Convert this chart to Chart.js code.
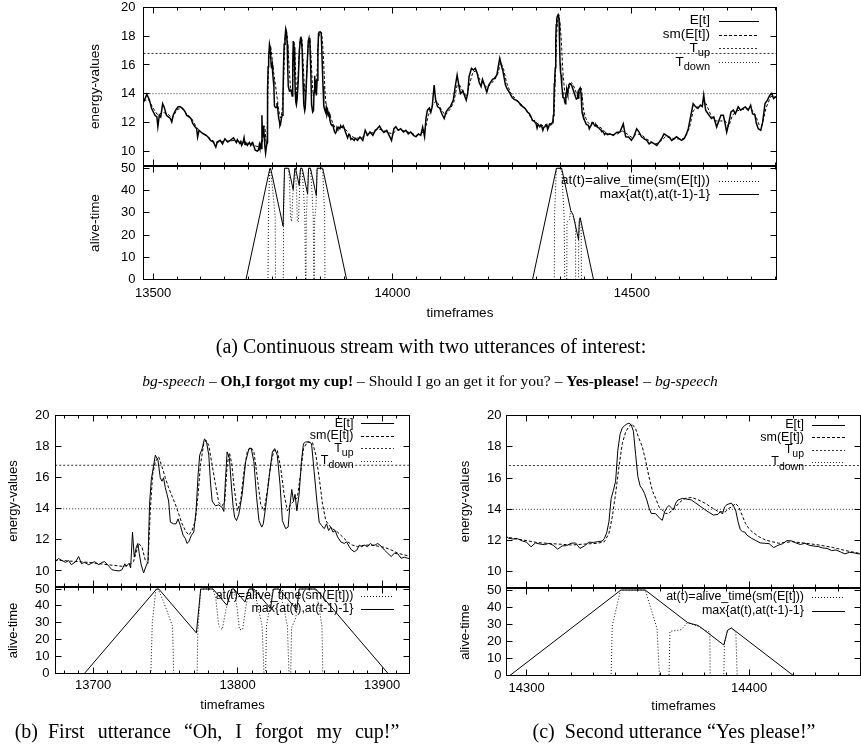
<!DOCTYPE html>
<html>
<head>
<meta charset="utf-8">
<script src="https://cdn.jsdelivr.net/npm/chart.js@4.4.1/dist/chart.umd.min.js"></script>
<style>
  html, body { margin: 0; padding: 0; background: #fff; }
  #page { position: relative; width: 861px; height: 752px; overflow: hidden; }
  #page canvas { position: absolute; left: 0; top: 0; }
  .cap { position: absolute; font-family: "Liberation Serif", "Times New Roman", serif; color: #000;
         white-space: nowrap; line-height: 1; transform: translateX(-50%); }
</style>
</head>
<body>
<div id="page">
  <canvas id="topE" width="861" height="752"></canvas>
  <canvas id="topA" width="861" height="752"></canvas>
  <canvas id="leftE" width="861" height="752"></canvas>
  <canvas id="leftA" width="861" height="752"></canvas>
  <canvas id="rightE" width="861" height="752"></canvas>
  <canvas id="rightA" width="861" height="752"></canvas>
  <div class="cap" style="left:431px; top:336px; font-size:20px;">(a) Continuous stream with two utterances of interest:</div>
  <div class="cap" style="left:430px; top:373px; font-size:15.5px;"><i>bg-speech</i> – <b>Oh,I forgot my cup!</b> – Should I go an get it for you? – <b>Yes-please!</b> – <i>bg-speech</i></div>
  <div class="cap" style="left:207px; top:721px; font-size:20px; word-spacing:8px;">(b)&ensp;First utterance “Oh, I forgot my cup!”</div>
  <div class="cap" style="left:674px; top:721px; font-size:20px;">(c)&ensp;Second utterance “Yes please!”</div>
</div>
<script>
// thresholds
const T_UP = 16.8;
const T_DOWN = 14.0;

// tick labels
const energyTicks = [10, 12, 14, 16, 18, 20];
const aliveTicks = [0, 10, 20, 30, 40, 50];
const topTicks = [13500, 14000, 14500];
const leftTicks = [13700, 13800, 13900];
const rightTicks = [14300, 14400];

// E[t] as [timeframe, energy]
const eLead = [[13480,13.4],[13487,13.95],[13492,13.6],[13497,12.97],[13504,12.5],[13508,12.38],[13510,11.7],
  [13513,12.5],[13516,12.38],[13520,13.3],[13523,13.08],[13528,12.5],[13532,12.38],[13536,12.27],[13539,12.03],
  [13542,12.5],[13547,12.85],[13552,13.08],[13556,13.1],[13562,12.97],[13567,12.73],[13570,12.5],[13575,12.38],
  [13579,12.27],[13583,11.92],[13588,11.68],[13591,11.56],[13593,10.98],[13596,11.45],[13600,11.33],[13605,11.21],
  [13611,11.1],[13616,10.93],[13620,10.75],[13626,10.63],[13631,10.28],[13634,10.63],[13640,10.75],[13645,10.5],
  [13650,10.86],[13656,10.63],[13661,10.75],[13668,10.93],[13671,10.75]];
const eFirst = [[13674,10.6],[13676,10.8],[13678,10.7],[13681,10.55],[13683,10.67],[13685,10.4],[13688,10.6],
  [13690,10.93],[13692,10.46],[13694,10.55],[13697,10.4],[13699,10.5],[13701,10.6],[13704,10.4],[13706,10.55],
  [13708,10.6],[13711,10.3],[13713,10.08],[13715,10.04],[13718,10.0],[13720,10.08],[13722,10.46],[13723,10.3],
  [13725,10.5],[13726,10.19],[13727.3,12.5],[13728.5,10.9],[13730,11.56],[13731,11.77],[13732,11.1],[13733.3,10.4],
  [13735,9.87],[13736.6,10.3],[13738,10.6],[13739.1,14.3],[13740.3,15.87],[13741.4,16.5],[13743.1,17.45],
  [13744.9,17.14],[13746.5,16.0],[13747.7,15.77],[13748.8,16.0],[13750,15.35],[13751.2,14.93],[13752.3,14.5],
  [13753.5,13.14],[13755.8,13.03],[13757.4,13.03],[13758.8,13.35],[13760.4,12.93],[13762.3,12.3],[13763.9,12.08],
  [13765,11.77],[13766.2,11.87],[13768.1,12.3],[13769.7,12.5],[13771.3,13.87],[13772.7,16.2],[13773.8,17.45],
  [13775.5,17.87],[13777.1,18.5],[13778.5,18.3],[13780.1,17.45],[13781.3,15.66],[13782.4,14.5],[13784.7,14.19],
  [13787,14.25],[13789.4,14.08],[13790.5,13.83],[13791.7,16.0],[13792.8,17.66],[13794.4,17.24],[13795.8,15.4],
  [13797,14.08],[13798,13.45],[13799.3,13.24],[13800.9,13.66],[13803.2,14.93],[13805.6,17.03],[13807.9,17.87],
  [13809.5,17.87],[13811.3,17.03],[13813.2,14.72],[13814.8,13.24],[13816.7,12.82],[13817.8,13.03],[13819.4,14.08],
  [13821.8,16.0],[13824.1,17.66],[13825.7,17.87],[13827.5,17.45],[13829.4,15.56],[13831,13.24],[13833.3,12.72],
  [13835,12.82],[13836.1,14.08],[13837.5,15.24],[13838.7,14.5],[13839.8,14.93],[13841,13.87],[13842.6,14.93],
  [13844.2,17.03],[13845.6,18.19],[13847.2,18.3],[13849.5,18.3],[13851.2,18.19],[13853,16.4],[13854.9,14.5],
  [13856.5,13.14],[13858.1,12.93],[13860,12.72],[13861.6,13.03],[13863,12.6],[13864.6,12.82],[13866,12.5],
  [13867.6,12.6],[13869.2,12.19],[13871.5,11.87],[13873.8,11.77],[13875.5,11.87],[13877.3,11.56],[13878.9,11.35],
  [13880.8,11.24],[13882.6,11.35],[13884.3,11.66],[13885.9,11.56],[13887.7,11.66],[13890,11.56],[13891.9,11.77],
  [13893.5,11.66],[13895.1,11.66],[13897,11.77],[13899.3,11.6],[13901.6,11.35],[13903.9,11.14],[13906.3,10.93],
  [13908.6,11.14],[13910.9,11.1],[13913.2,10.82],[13915.5,10.88],[13917.8,10.82],[13920.1,10.76]];
const eMid = [[13922,10.9],[13927,10.75],[13932,10.98],[13938,10.75],[13943,11.45],[13948,11.1],[13953,11.33],
  [13959,11.1],[13964,11.45],[13968,11.56],[13973,11.75],[13977,11.5],[13982,11.3],[13988,11.45],[13993,11.1],
  [13998,10.75],[14003,11.56],[14007,11.7],[14012,11.45],[14017,11.56],[14023,11.33],[14028,11.45],[14033,11.2],
  [14038,11.33],[14044,11.1],[14049,11.0],[14054,11.2],[14059,11.1],[14063,11.68],[14067,11.0],[14070,12.3],
  [14073,12.85],[14077,13.0],[14080,12.7],[14083,13.1],[14087,14.6],[14090,13.6],[14094,13.1],[14099,12.97],
  [14103,12.6],[14108,12.27],[14112,12.73],[14117,12.97],[14121,13.1],[14127,13.55],[14131,14.5],[14135,15.3],
  [14139,14.5],[14142,14.0],[14147,14.2],[14150,13.9],[14154,13.55],[14157,14.0],[14160,15.2],[14165,15.77],
  [14169,15.65],[14173,15.77],[14177,15.4],[14181,14.8],[14185,14.5],[14188,15.0],[14192,14.6],[14197,14.1],
  [14201,14.6],[14205,14.8],[14209,15.0],[14213,15.07],[14218,15.3],[14221,15.9],[14224,16.47],[14228,15.9],
  [14231,15.5],[14236,14.6],[14240,14.3],[14244,14.1],[14249,13.78],[14254,13.6],[14258,13.55],[14263,13.43],
  [14268,13.2],[14272,13.1],[14277,12.97],[14282,12.73],[14286,12.6]];
const eSecond = [[14290,12.36],[14292,12.15],[14294,12.1],[14296,12.12],[14298,11.98],[14300,11.9],[14302,11.6],
  [14304,11.85],[14306,11.78],[14308,11.74],[14310,11.82],[14312,11.7],[14314,11.45],[14316,11.66],[14318,11.68],
  [14320,11.83],[14322,11.85],[14324,11.5],[14326,11.66],[14328,11.9],[14330,11.88],[14332,11.93],[14334,11.97],
  [14335,12.15],[14336,12.5],[14337,13.2],[14338,14.7],[14339,15.2],[14340,15.8],[14341,17.77],[14342,18.8],
  [14343,19.2],[14344,19.35],[14345,19.45],[14346,19.51],[14347,19.4],[14348,19.0],[14349,17.5],[14350,16.1],
  [14351,15.5],[14352,15.3],[14353,15.01],[14354,14.6],[14355,14.1],[14356,13.74],[14358,13.72],[14360,13.4],
  [14361,13.3],[14362,13.84],[14363,14.1],[14364,14.25],[14365,14.1],[14366,13.95],[14367,14.4],[14368,14.59],
  [14370,14.7],[14372,14.65],[14374,14.6],[14376,14.4],[14378,14.2],[14380,13.99],[14382,13.8],[14384,13.63],
  [14386,13.68],[14387,13.85],[14388,13.7],[14389,14.16],[14390,14.3],[14392,14.4],[14393,14.2],[14394,13.9],
  [14395,13.2],[14396,12.7],[14397,12.57],[14398,12.55],[14399,12.35],[14401,12.15],[14403,12.0],[14405,11.85],
  [14407,11.83],[14409,11.8],[14411,11.55],[14413,11.7],[14415,11.8],[14417,12.0],[14419,11.98],[14421,11.85],
  [14423,11.75],[14425,11.83],[14427,11.7],[14429,11.65],[14431,11.62],[14433,11.53],[14435,11.5],[14437,11.36],
  [14439,11.4],[14441,11.28],[14443,11.15],[14445,11.25],[14447,11.22],[14449,11.15]];
const eTail = [[14454,11.2],[14461,11.1],[14468,11.3],[14475,11.33],[14482,11.9],[14487,11.0],[14493,10.98],
  [14499,10.75],[14504,11.0],[14510,11.56],[14515,11.33],[14520,11.0],[14526,10.86],[14531,10.75],[14536,10.5],
  [14541,10.63],[14547,10.51],[14552,10.4],[14557,10.63],[14562,10.86],[14567,11.2],[14572,11.1],[14578,10.98],
  [14583,10.75],[14588,10.86],[14593,11.0],[14599,10.86],[14604,10.75],[14609,10.86],[14614,11.2],[14618,11.6],
  [14622,12.3],[14628,13.3],[14633,13.1],[14638,12.97],[14643,13.2],[14647,13.1],[14650,13.9],[14654,12.85],
  [14659,12.6],[14666,12.27],[14671,12.38],[14677,11.68],[14682,12.15],[14686,12.5],[14691,12.5],[14694,12.03],
  [14698,11.33],[14702,11.9],[14707,12.73],[14712,12.85],[14716,12.6],[14722,13.08],[14727,12.85],[14732,12.97],
  [14737,13.08],[14743,12.85],[14748,13.2],[14752,12.6],[14757,12.5],[14760,11.92],[14764,11.56],[14769,11.45],
  [14773,12.0],[14778,13.32],[14783,13.55],[14788,13.9],[14792,14.02],[14796,13.67],[14801,13.8]];

// sm(E[t])
const smLead = [[13480,13.5],[13490,13.6],[13500,13.0],[13510,12.5],[13520,12.7],[13530,12.6],[13540,12.3],
  [13550,12.9],[13560,13.0],[13570,12.6],[13580,12.3],[13590,11.7],[13600,11.3],[13610,11.1],[13620,10.85],
  [13630,10.6],[13640,10.65],[13650,10.7],[13660,10.7],[13670,10.75]];
const smFirst = [[13674,10.7],[13697,10.55],[13715,10.35],[13720,10.3],[13724.5,10.35],[13728,10.6],[13730.3,11.35],
  [13731.5,11.77],[13733.8,11.56],[13736.1,10.7],[13738,10.5],[13739.6,13.87],[13741.2,16.2],[13743.1,17.03],
  [13745.4,17.35],[13747.7,16.7],[13750,16.0],[13752.3,15.35],[13754.6,14.82],[13756.9,14.3],[13759.3,13.66],
  [13761.6,13.03],[13763.9,12.6],[13766.2,12.3],[13768.5,12.6],[13770.8,13.24],[13772.7,14.93],[13774.3,16.82],
  [13776.6,18.19],[13778.2,18.4],[13780.1,18.08],[13782.4,16.82],[13784.7,15.56],[13787,14.4],[13789.4,14.19],
  [13791.2,14.5],[13792.8,16.82],[13794.4,17.6],[13796,16.9],[13797.5,15.5],[13799.8,13.87],[13802.1,14.5],
  [13804.4,16.4],[13806.7,17.66],[13809,17.98],[13811.3,17.66],[13813.7,16.0],[13816,14.3],[13818.3,13.87],
  [13820.6,15.14],[13822.9,16.82],[13825.2,17.77],[13827.5,17.77],[13829.9,16.6],[13832.2,14.93],[13834.5,13.87],
  [13836.8,14.3],[13839.1,14.5],[13841.4,14.72],[13843.8,16.4],[13845.6,17.87],[13848.4,18.3],[13851.9,18.25],
  [13854.2,17.45],[13856.5,16.0],[13858.8,14.3],[13861.1,13.24],[13863.4,12.93],[13865.7,12.72],[13869.2,12.5],
  [13872.7,12.19],[13876.2,11.87],[13879.6,11.66],[13883.1,11.56],[13887.7,11.66],[13892.4,11.66],[13897,11.6],
  [13901.6,11.52],[13906.3,11.35],[13910.9,11.14],[13915.5,11.03],[13920.1,10.93]];
const smMid = [[13930,10.9],[13940,11.0],[13950,11.2],[13960,11.3],[13970,11.55],[13980,11.45],[13990,11.3],
  [14000,11.2],[14010,11.5],[14020,11.45],[14030,11.35],[14040,11.25],[14050,11.1],[14060,11.2],[14068,11.5],
  [14075,12.5],[14085,13.3],[14092,13.5],[14100,13.0],[14110,12.5],[14120,12.9],[14128,13.4],[14135,14.6],
  [14140,14.6],[14148,14.1],[14155,13.8],[14162,14.8],[14168,15.5],[14175,15.6],[14182,15.0],[14190,14.7],
  [14198,14.4],[14206,14.7],[14214,15.0],[14220,15.4],[14226,16.2],[14232,15.7],[14238,14.8],[14246,14.1],
  [14255,13.7],[14265,13.4],[14275,13.05],[14285,12.6]];
const smSecond = [[14290,12.25],[14305,11.87],[14320,11.72],[14332,11.83],[14335,11.93],[14337,12.46],[14338.5,13.5],
  [14340,15.0],[14341.5,16.7],[14343,18.2],[14344.5,18.94],[14346,19.3],[14347.3,19.47],[14349,19.15],[14350.3,18.6],
  [14352,18.0],[14353.5,17.1],[14355,16.07],[14356.5,15.2],[14358,14.7],[14359.5,14.16],[14361,13.95],[14362.3,13.74],
  [14364,13.74],[14365.3,13.95],[14367,14.16],[14368.3,14.38],[14370,14.59],[14371.3,14.7],[14374.3,14.76],
  [14377.3,14.59],[14380.3,14.38],[14383.3,14.1],[14386.3,13.84],[14389.3,13.84],[14390.8,14.06],[14392.3,14.16],
  [14393.8,14.38],[14395.3,14.16],[14396.8,13.63],[14398.3,13.1],[14399.8,12.78],[14401.3,12.57],[14404.3,12.25],
  [14407.3,12.04],[14410.3,11.93],[14413.3,11.83],[14419.3,11.93],[14425.3,11.83],[14431.3,11.72],[14437.3,11.57],
  [14443.3,11.36],[14449.3,11.19]];
const smTail = [[14460,11.15],[14470,11.2],[14480,11.4],[14490,11.2],[14500,10.95],[14510,11.2],[14520,11.15],
  [14530,10.85],[14540,10.65],[14550,10.5],[14560,10.7],[14570,11.0],[14580,10.95],[14590,10.85],[14600,10.85],
  [14610,10.9],[14620,11.6],[14628,12.8],[14638,13.1],[14648,13.2],[14655,13.3],[14665,12.5],[14675,12.1],
  [14685,12.1],[14695,12.1],[14702,11.7],[14710,12.5],[14720,12.8],[14730,12.9],[14740,12.95],[14750,12.9],
  [14758,12.5],[14766,11.8],[14772,11.8],[14780,13.0],[14790,13.8],[14800,13.8]];

// alive-time: at(t) and max{at(t),at(t-1)-1}
const aliveAt = [[13480,0],[13740,0],[13741,30],[13743.5,50],[13745,50],[13749,42],[13752,35],[13755,28],
  [13755.8,0],[13772,0],[13772.5,25],[13774.5,50],[13783,50],[13785,44],[13787,28],[13789.4,26],[13792,38],
  [13794,44.5],[13796,50],[13797.5,50],[13799.8,38],[13801.3,26],[13803.5,26],[13805.6,38.5],[13807.9,50],
  [13811.3,50],[13814.8,37],[13817,28],[13818.3,0],[13819.4,0],[13820,28],[13824.5,50],[13828.7,50],
  [13832.2,38.5],[13834.5,28],[13835.6,0],[13836.8,0],[13837.4,27],[13840.3,33],[13842.6,50],[13854.2,50],
  [13856.5,38.5],[13858.4,28],[13859,0],[14338,0],[14338.5,29],[14342.2,50],[14353.3,50],[14358.6,27.5],
  [14359.7,0],[14364,0],[14364.4,25.8],[14369.5,26.8],[14372.2,30.8],[14374.3,30],[14376.5,29],[14381,26],
  [14382.3,25.5],[14382.5,0],[14388.6,0],[14388.9,18.8],[14390.3,26.5],[14392,27.8],[14394,25.2],[14394.6,0],
  [14802,0]];
const aliveMax = [[13480,0],[13694,0],[13744,50],[13745.5,50],[13771.5,24],[13774.5,50],[13783,50],[13792.6,40.4],
  [13796,50],[13797.5,50],[13805.2,42.3],[13807.9,50],[13811.3,50],[13822.8,38.5],[13824.8,50],[13828.7,50],
  [13841,37.7],[13842.6,50],[13854.2,50],[13904.2,0],[14292.5,0],[14342.4,50],[14353.3,50],[14372.3,31],
  [14374.3,30.2],[14376.5,29.5],[14377.6,28.8],[14388.6,17.8],[14390.3,26.5],[14392,27.8],[14419.8,0],[14802,0]];

const FONT = '"Liberation Sans", Arial, Helvetica, sans-serif';
Chart.defaults.color = '#000';
Chart.defaults.font.family = FONT;

const xy = arr => arr.map(([x, y]) => ({x, y}));
const energy = [...eLead, ...eFirst, ...eMid, ...eSecond, ...eTail];
const smooth = [...smLead, ...smFirst, ...smMid, ...smSecond, ...smTail];
const X0 = energy[0][0], X1 = energy[energy.length - 1][0];

function energySets(eWidth) {
  return [
    {key: ['E[t]'], data: xy(energy), borderColor: '#000', borderWidth: eWidth},
    {key: ['sm(E[t])'], data: xy(smooth), borderColor: '#000', borderWidth: 1, borderDash: [3, 2]},
    {key: ['T', 'up'], data: xy([[X0, T_UP], [X1, T_UP]]), borderColor: '#333', borderWidth: 1, borderDash: [2, 2]},
    {key: ['T', 'down'], data: xy([[X0, T_DOWN], [X1, T_DOWN]]), borderColor: '#333', borderWidth: 1, borderDash: [1, 2]}
  ];
}
function aliveSets() {
  return [
    {key: ['at(t)=alive_time(sm(E[t]))'], data: xy(aliveAt), borderColor: '#111', borderWidth: 1, borderDash: [1, 2]},
    {key: ['max{at(t),at(t-1)-1}'], data: xy(aliveMax), borderColor: '#000', borderWidth: 1}
  ];
}

// gnuplot look: frame, inward ticks, key with line samples
const gnuLook = {
  id: 'gnuLook',
  afterDatasetsDraw(chart, args, o) {
    const {ctx, chartArea: a, scales: {x, y}} = chart;
    ctx.save();
    ctx.strokeStyle = '#000';
    ctx.lineWidth = 1;
    ctx.setLineDash([]);
    ctx.strokeRect(a.left, a.top, a.right - a.left, a.bottom - a.top);
    ctx.beginPath();
    for (let v = Math.ceil(x.min / o.xMinor) * o.xMinor; v <= x.max; v += o.xMinor) {
      const px = Math.round(x.getPixelForValue(v) - 0.5) + 0.5;
      const len = v % o.xMajor === 0 ? 6 : 3;
      ctx.moveTo(px, a.top); ctx.lineTo(px, a.top + len);
      ctx.moveTo(px, a.bottom); ctx.lineTo(px, a.bottom - len);
    }
    o.yTicks.forEach(v => {
      const py = Math.round(y.getPixelForValue(v) - 0.5) + 0.5;
      ctx.moveTo(a.left, py); ctx.lineTo(a.left + 6, py);
      ctx.moveTo(a.right, py); ctx.lineTo(a.right - 6, py);
    });
    ctx.stroke();

    const k = o.key;
    ctx.textAlign = 'right';
    ctx.textBaseline = 'middle';
    ctx.fillStyle = '#000';
    chart.data.datasets.forEach((ds, i) => {
      const yy = k.y0 + i * k.dy;
      let xr = k.right;
      const [main, sub] = ds.key;
      if (sub) {
        ctx.font = k.sub + 'px ' + FONT;
        ctx.fillText(sub, xr, yy + k.subDy);
        xr -= ctx.measureText(sub).width;
      }
      ctx.font = k.fs + 'px ' + FONT;
      ctx.fillText(main, xr, yy);
      ctx.strokeStyle = ds.borderColor;
      ctx.lineWidth = 1;
      ctx.setLineDash(ds.borderDash || []);
      ctx.beginPath();
      const ly = Math.round(yy) + 0.5;
      ctx.moveTo(k.s0, ly); ctx.lineTo(k.s1, ly);
      ctx.stroke();
    });
    ctx.restore();
  }
};

const figs = {
  top: {L: 143.5, R: 776.5, xMin: 13480, xMax: 14802, xLabels: topTicks, xMinor: 50, xMajor: 500,
        fs: 13, tfs: 13.5, yTitleX: 95, yPad: 8, xPad: 6, kRight: 710, s0: 719, s1: 759, kfs: 13.5, ksub: 11},
  left: {L: 55.5, R: 409.5, xMin: 13674, xMax: 13919, xLabels: leftTicks, xMinor: 10, xMajor: 100,
        fs: 13, tfs: 13, yTitleX: 13.3, yPad: 6, xPad: 4, kRight: 353.5, s0: 361, s1: 394, kfs: 12.5, ksub: 10.5},
  right: {L: 506.5, R: 860.5, xMin: 14291, xMax: 14450, xLabels: rightTicks, xMinor: 10, xMajor: 100,
        fs: 13, tfs: 13, yTitleX: 465, yPad: 5, xPad: 5, kRight: 804, s0: 812, s1: 845, kfs: 12.5, ksub: 10.5}
};

function makePanel(id, f, p) {
  const lh = f.tfs * 1.2;
  const yW = f.L - f.yTitleX + lh / 2;
  const xH = p.xTitleY ? p.xTitleY - p.B + lh / 2 : 0;
  const tickFont = {family: FONT, size: f.fs};
  const titleFont = {family: FONT, size: f.tfs};
  new Chart(document.getElementById(id), {
    type: 'line',
    data: {datasets: p.sets},
    options: {
      responsive: false,
      animation: false,
      events: [],
      layout: {autoPadding: false, padding: {left: f.L - yW, top: p.T, right: 861 - f.R, bottom: 752 - p.B - xH}},
      elements: {point: {radius: 0}, line: {tension: 0, fill: false}},
      plugins: {
        legend: {display: false},
        tooltip: {enabled: false},
        gnuLook: {xMinor: f.xMinor, xMajor: f.xMajor, yTicks: p.yLabels,
          key: {right: f.kRight, s0: f.s0, s1: f.s1, fs: f.kfs, sub: f.ksub, subDy: 5, y0: p.k0, dy: p.kdy}}
      },
      scales: {
        x: {
          type: 'linear', min: f.xMin, max: f.xMax, display: !!p.xTitleY,
          grid: {display: false, drawTicks: false}, border: {display: false},
          ticks: {padding: f.xPad, font: tickFont, autoSkip: false, maxRotation: 0, callback: v => String(v)},
          afterBuildTicks: s => { s.ticks = f.xLabels.map(v => ({value: v})); },
          afterFit: s => { s.height = xH; s.paddingLeft = 0; s.paddingRight = 0; },
          title: {display: !!p.xTitleY, text: 'timeframes', font: titleFont, padding: 0}
        },
        y: {
          type: 'linear', min: p.yMin, max: p.yMax,
          grid: {display: false, drawTicks: false}, border: {display: false},
          ticks: {padding: f.yPad, font: tickFont, autoSkip: false, callback: v => String(v)},
          afterBuildTicks: s => { s.ticks = p.yLabels.map(v => ({value: v})); },
          afterFit: s => { s.width = yW; s.paddingTop = 0; s.paddingBottom = 0; },
          title: {display: true, text: p.yTitle, font: titleFont, padding: 0}
        }
      }
    },
    plugins: [gnuLook]
  });
}

makePanel('topE', figs.top, {T: 7.5, B: 165.5, yMin: 9, yMax: 20, yLabels: energyTicks, yTitle: 'energy-values',
  sets: energySets(1.5), k0: 20.7, kdy: 13.8});
makePanel('topA', figs.top, {T: 166.5, B: 279.5, yMin: 0, yMax: 50.8, yLabels: aliveTicks, yTitle: 'alive-time',
  sets: aliveSets(), k0: 180.7, kdy: 13.6, xTitleY: 313});
makePanel('leftE', figs.left, {T: 415.5, B: 586.5, yMin: 9, yMax: 20, yLabels: energyTicks, yTitle: 'energy-values',
  sets: energySets(1), k0: 423.3, kdy: 12.4});
makePanel('leftA', figs.left, {T: 587.5, B: 673.5, yMin: 0, yMax: 50.9, yLabels: aliveTicks, yTitle: 'alive-time',
  sets: aliveSets(), k0: 596, kdy: 13, xTitleY: 705});
makePanel('rightE', figs.right, {T: 415.5, B: 587.5, yMin: 9, yMax: 20, yLabels: energyTicks, yTitle: 'energy-values',
  sets: energySets(1), k0: 425, kdy: 12.3});
makePanel('rightA', figs.right, {T: 588.5, B: 675.5, yMin: 0, yMax: 50.9, yLabels: aliveTicks, yTitle: 'alive-time',
  sets: aliveSets(), k0: 596.7, kdy: 14, xTitleY: 706.7});
</script>
</body>
</html>
